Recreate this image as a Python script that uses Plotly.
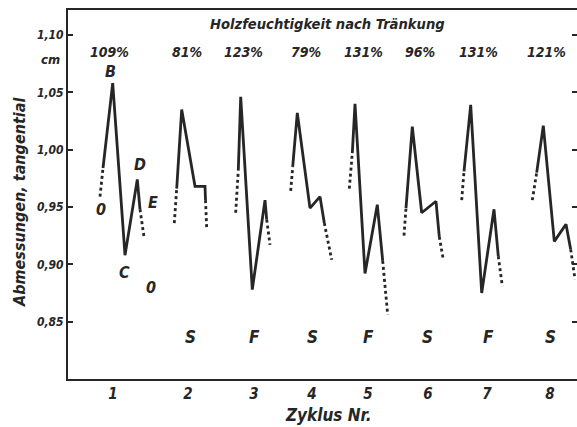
import plotly.graph_objects as go

# ---- data ----
cycle_pos = [113, 188, 254, 312, 368, 428, 487, 550]
cycle_labels = ["1", "2", "3", "4", "5", "6", "7", "8"]

moisture_x = [109, 187, 243, 306, 363, 420, 478, 546]
moisture_labels = ["109%", "81%", "123%", "79%", "131%", "96%", "131%", "121%"]

regime_x = [190, 254, 312, 368, 427, 488, 550]
regime_labels = ["S", "F", "S", "F", "S", "F", "S"]

# each path: first segment dotted, last segment dotted, the rest solid
c1_x = [100, 103, 112.7, 125, 137.3, 140, 144]
c1_y = [0.959, 0.984, 1.058, 0.908, 0.974, 0.948, 0.924]
c2_x = [174.3, 176.7, 181.7, 195, 205, 205.5, 206.7]
c2_y = [0.936, 0.966, 1.035, 0.968, 0.968, 0.956, 0.931]
c3_x = [235.7, 238.3, 240.7, 252.3, 265, 266.7, 270]
c3_y = [0.945, 0.982, 1.046, 0.878, 0.956, 0.939, 0.917]
c4_x = [290.7, 292.7, 297.3, 310, 320, 324.3, 331.7]
c4_y = [0.964, 0.985, 1.032, 0.949, 0.959, 0.936, 0.904]
c5_x = [349.3, 352.3, 355, 365, 377.3, 382.7, 387.7]
c5_y = [0.966, 0.997, 1.040, 0.892, 0.952, 0.903, 0.856]
c6_x = [404, 406, 412.3, 421.7, 436, 439.3, 443.3]
c6_y = [0.925, 0.949, 1.020, 0.945, 0.955, 0.924, 0.904]
c7_x = [461.7, 464, 470.7, 481.7, 494, 498.3, 502.3]
c7_y = [0.956, 0.981, 1.039, 0.875, 0.948, 0.907, 0.881]
c8_x = [532.3, 536.7, 543.3, 554.3, 566, 570.7, 575]
c8_y = [0.956, 0.980, 1.021, 0.920, 0.935, 0.913, 0.887]

point_labels = ["B", "C", "D", "E", "0", "0"]
point_x = [110, 124, 140, 153, 100.7, 151]
point_y = [1.068, 0.893, 0.987, 0.954, 0.948, 0.880]

y_ticks = [0.85, 0.90, 0.95, 1.00, 1.05, 1.10]

# ---- figure ----
FONT = "Liberation Sans Narrow, DejaVu Sans Condensed, Arial Narrow, sans-serif"
INK = "#262626"

paths = [(c1_x, c1_y), (c2_x, c2_y), (c3_x, c3_y), (c4_x, c4_y),
         (c5_x, c5_y), (c6_x, c6_y), (c7_x, c7_y), (c8_x, c8_y)]

dot_x, dot_y, sol_x, sol_y = [], [], [], []
for xs, ys in paths:
    dot_x += xs[0:2] + [None] + xs[-2:] + [None]
    dot_y += ys[0:2] + [None] + ys[-2:] + [None]
    sol_x += xs[1:-1] + [None]
    sol_y += ys[1:-1] + [None]

fig = go.Figure()
fig.add_trace(go.Scatter(x=dot_x, y=dot_y, mode="lines",
                         line=dict(color=INK, width=2.8, dash="dot"),
                         hoverinfo="skip", showlegend=False))
fig.add_trace(go.Scatter(x=sol_x, y=sol_y, mode="lines",
                         line=dict(color=INK, width=2.8),
                         hoverinfo="skip", showlegend=False))
# invisible trace on right axis for the right-hand tick marks
fig.add_trace(go.Scatter(x=[None], y=[None], yaxis="y2", showlegend=False))

ann = []
def label(x, y, text, size=15, xref="x", yref="y", angle=0):
    ann.append(dict(x=x, y=y, xref=xref, yref=yref, text=text, showarrow=False,
                    textangle=angle, xanchor="center", yanchor="middle",
                    font=dict(family=FONT, size=size, color=INK, style="italic",
                              weight="bold")))

label(327, 1.1096, "Holzfeuchtigkeit nach Tränkung", size=14.6)
for x, t in zip(moisture_x, moisture_labels):
    label(x, 1.085, t, size=14)
for x, t in zip(regime_x, regime_labels):
    label(x, 0.837, t, size=17)
for x, y, t in zip(point_x, point_y, point_labels):
    label(x, y, t, size=16)
label(-0.0334, 0.8645, "cm", size=13, xref="paper", yref="paper")
label(-0.0943, 0.48, "Abmessungen, tangential", size=16, xref="paper", yref="paper", angle=-90)
label(0.511, -0.0976, "Zyklus Nr.", size=17, xref="paper", yref="paper")

fig.update_layout(
    width=577, height=427,
    margin=dict(l=68, r=0, t=10, b=48, autoexpand=False),
    paper_bgcolor="white", plot_bgcolor="white",
    separators=",.",
    annotations=ann,
    xaxis=dict(range=[68, 577], tickvals=cycle_pos, ticktext=cycle_labels,
               automargin=False,
               showgrid=False, zeroline=False, showline=True, mirror=True,
               linecolor=INK, linewidth=2, ticks="",
               tickfont=dict(family=FONT, size=15, color=INK, style="italic", weight="bold")),
    yaxis=dict(range=[0.80, 1.1218], tickvals=y_ticks, tickformat=".2f",
               automargin=False,
               showgrid=False, zeroline=False, showline=True, linecolor=INK, linewidth=2,
               ticks="inside", ticklen=5, tickwidth=1.5, tickcolor=INK,
               tickfont=dict(family=FONT, size=12, color=INK, style="italic", weight="bold")),
    yaxis2=dict(range=[0.80, 1.1218], tickvals=y_ticks, overlaying="y", side="right",
                automargin=False,
                showgrid=False, zeroline=False, showline=False, showticklabels=False,
                ticks="inside", ticklen=5, tickwidth=1.5, tickcolor=INK),
)

fig.write_html("out.html", config={"displayModeBar": False},
               post_script="document.body.style.margin='0';document.body.style.overflow='hidden';")
